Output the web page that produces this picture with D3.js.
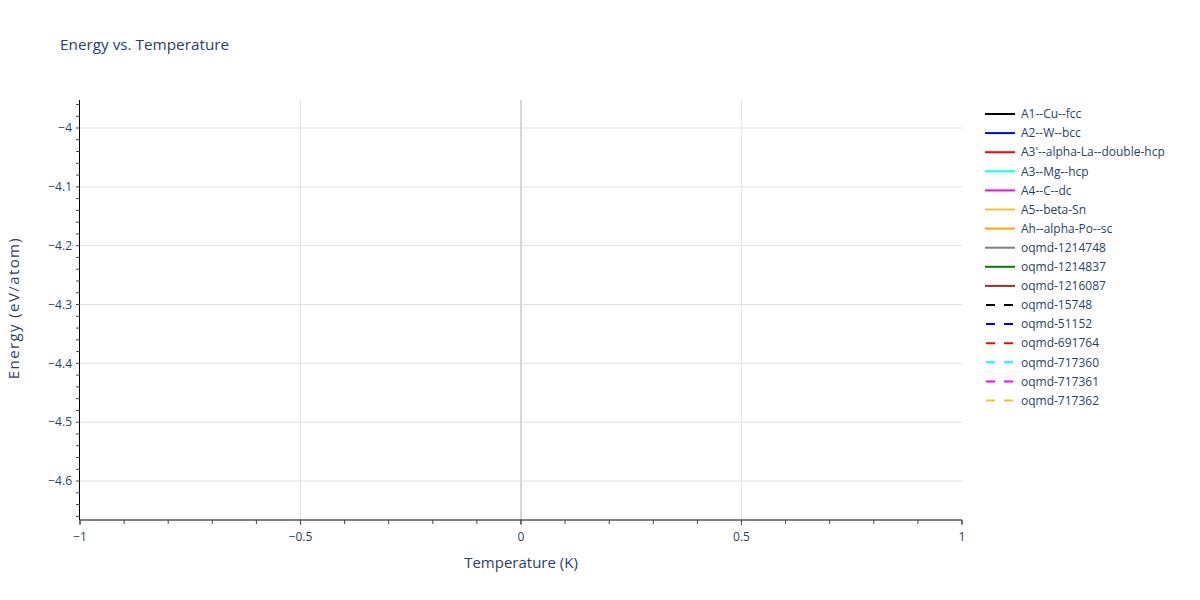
<!DOCTYPE html>
<html>
<head>
<meta charset="utf-8">
<script src="https://cdn.jsdelivr.net/npm/d3@7"></script>
<style>
  body { margin: 0; background: #fff; }
  text { font-family: "Open Sans", sans-serif; fill: #2a3f5f; }
</style>
</head>
<body>
<div id="chart"></div>
<script>
// series names, colours and dash style (all traces hold a single point at T = 0)
var seriesNames = ["A1--Cu--fcc", "A2--W--bcc", "A3'--alpha-La--double-hcp", "A3--Mg--hcp",
  "A4--C--dc", "A5--beta-Sn", "Ah--alpha-Po--sc", "oqmd-1214748", "oqmd-1214837",
  "oqmd-1216087", "oqmd-15748", "oqmd-51152", "oqmd-691764", "oqmd-717360",
  "oqmd-717361", "oqmd-717362"];
var seriesColors = ["black", "blue", "red", "cyan", "magenta", "#f0c030", "orange", "gray",
  "green", "brown", "black", "blue", "red", "cyan", "magenta", "#f0c030"];
var seriesDashed = [false, false, false, false, false, false, false, false, false, false,
  true, true, true, true, true, true];
var temperatures = [0];
// energies at T = 0 (not visible in the picture, estimated within the y range)
var energies = [-4.05, -4.10, -4.15, -4.20, -4.25, -4.30, -4.35, -4.40, -4.45, -4.50,
  -4.55, -4.60, -4.62, -4.64, -4.00, -3.98];
var xTicks = [-1, -0.5, 0, 0.5, 1];
var yTicks = [-4, -4.1, -4.2, -4.3, -4.4, -4.5, -4.6];

var W = 1200, H = 600;
var margin = {top: 100, right: 238, bottom: 80, left: 80};
var width = W - margin.left - margin.right,
    height = H - margin.top - margin.bottom;

var svg = d3.select("#chart").append("svg")
    .attr("width", W)
    .attr("height", H);

var x = d3.scaleLinear().domain([-1, 1]).range([0, width]);
var y = d3.scaleLinear().domain([-4.6662, -3.9524]).range([height, 0]);

var g = svg.append("g")
    .attr("transform", "translate(" + margin.left + "," + margin.top + ")");

// grid
g.append("g").selectAll("line")
    .data(yTicks)
  .enter().append("line")
    .attr("x1", 0).attr("x2", width)
    .attr("y1", d => y(d)).attr("y2", d => y(d))
    .attr("stroke", "#e0e0e0").attr("stroke-width", 1);

g.append("g").selectAll("line")
    .data(xTicks.filter(d => d !== -1 && d !== 1))
  .enter().append("line")
    .attr("x1", d => x(d)).attr("x2", d => x(d))
    .attr("y1", 0).attr("y2", height)
    .attr("stroke", d => d === 0 ? "#d6d6d6" : "#e4e4e4")
    .attr("stroke-width", d => d === 0 ? 2 : 1);

// data traces
var line = d3.line().x(d => x(d[0])).y(d => y(d[1]));
seriesNames.forEach(function(name, i) {
  var pts = temperatures.map(t => [t, energies[i]]);
  g.append("path")
      .datum(pts)
      .attr("fill", "none")
      .attr("stroke", seriesColors[i])
      .attr("stroke-width", 2)
      .attr("stroke-dasharray", seriesDashed[i] ? "6,6" : null)
      .attr("d", line);
});

// minor ticks
var xMinor = d3.range(-10, 11).map(d => d / 10);
var yMinor = d3.range(-233, -197).map(d => d / 50).filter(d => d >= y.domain()[0] && d <= y.domain()[1]);

var xAxis = g.append("g")
    .attr("transform", "translate(0," + height + ")");
xAxis.append("line").attr("x1", 0).attr("x2", width)
    .attr("stroke", "#000").attr("stroke-width", 1);
xAxis.selectAll(".minor").data(xMinor).enter().append("line")
    .attr("x1", d => x(d)).attr("x2", d => x(d))
    .attr("y1", 0).attr("y2", 4)
    .attr("stroke", "#444");
xAxis.selectAll(".major").data(xTicks).enter().append("line")
    .attr("x1", d => x(d)).attr("x2", d => x(d))
    .attr("y1", 0).attr("y2", 5)
    .attr("stroke", "#444");
xAxis.selectAll("text").data(xTicks).enter().append("text")
    .attr("x", d => x(d)).attr("y", 21)
    .attr("text-anchor", "middle")
    .style("font-size", "12px")
    .text(d => d3.format("")(d).replace("-", "\u2212"));

var yAxis = g.append("g");
yAxis.append("line").attr("y1", 0).attr("y2", height)
    .attr("x1", -0.5).attr("x2", -0.5)
    .attr("stroke", "#000").attr("stroke-width", 1);
yAxis.selectAll(".minor").data(yMinor).enter().append("line")
    .attr("y1", d => y(d)).attr("y2", d => y(d))
    .attr("x1", 0).attr("x2", -4)
    .attr("stroke", "#444");
yAxis.selectAll("text").data(yTicks).enter().append("text")
    .attr("x", -8).attr("y", d => y(d)).attr("dy", "0.35em")
    .attr("text-anchor", "end")
    .style("font-size", "12px")
    .text(d => d3.format("")(d).replace("-", "\u2212"));

// axis titles
svg.append("text")
    .attr("x", margin.left + width / 2).attr("y", 568)
    .attr("text-anchor", "middle")
    .style("font-size", "15px")
    .text("Temperature (K)");

svg.append("text")
    .attr("transform", "translate(19," + (margin.top + height / 2 - 2) + ") rotate(-90)")
    .attr("text-anchor", "middle")
    .style("font-size", "15px")
    .style("letter-spacing", "1.4px")
    .text("Energy (eV/atom)");

// title
svg.append("text")
    .attr("x", 60).attr("y", 50)
    .style("font-size", "15.3px")
    .text("Energy vs. Temperature");

// legend
var legend = svg.append("g").attr("transform", "translate(985,114)");
var item = legend.selectAll("g").data(seriesNames).enter().append("g")
    .attr("transform", (d, i) => "translate(0," + i * 19.1 + ")");
item.append("line")
    .attr("x1", 0).attr("x2", 30)
    .attr("stroke", (d, i) => seriesColors[i])
    .attr("stroke-width", 2)
    .attr("stroke-dasharray", (d, i) => seriesDashed[i] ? "9,9" : null)
    .attr("stroke-dashoffset", -1);
item.append("text")
    .attr("x", 36).attr("dy", "0.35em")
    .style("font-size", "12px")
    .text(d => d);
</script>
</body>
</html>
